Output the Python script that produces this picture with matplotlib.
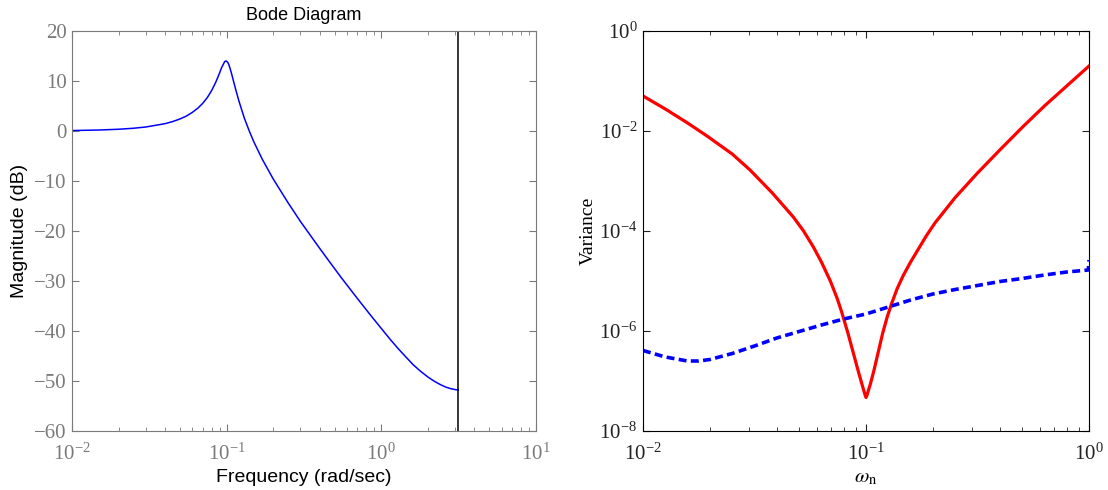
import numpy as np
import matplotlib
matplotlib.use("Agg")
import matplotlib.pyplot as plt
from matplotlib.ticker import LogLocator, NullFormatter, NullLocator

plt.rcParams["mathtext.fontset"] = "stix"
plt.rcParams["font.family"] = ["Liberation Serif", "DejaVu Serif"]

# ── Data ──────────────────────────────────────────────────────────
# left panel: Bode magnitude (dB) vs frequency (rad/sec)
bode_freq = [0.01, 0.015, 0.02, 0.025, 0.03, 0.04, 0.045, 0.05, 0.055, 0.06,
             0.065, 0.07, 0.075, 0.08, 0.085, 0.09, 0.0925, 0.097, 0.099,
             0.1015, 0.103, 0.105, 0.1075, 0.11, 0.115, 0.12, 0.13, 0.14,
             0.15, 0.17, 0.2, 0.25, 0.3, 0.4, 0.466, 0.55, 0.7, 0.85, 1.0,
             1.15, 1.3, 1.6, 1.8, 2.0, 2.2, 2.4, 2.6, 2.8, 3.0, 3.1416]
bode_mag = [0.09, 0.2, 0.35, 0.55, 0.8, 1.47, 1.91, 2.42, 3.0, 3.73,
            4.55, 5.53, 6.7, 8.1, 9.75, 11.6, 12.6, 13.86, 14.02,
            13.76, 13.36, 12.6, 11.5, 10.3, 8.04, 6.0, 2.6, 0.0,
            -2.2, -5.66, -9.6, -14.4, -18.1, -23.5, -26.3, -29.3, -33.5, -36.8, -39.5,
            -41.8, -43.7, -46.7, -48.1, -49.2, -50.05, -50.7, -51.2, -51.52, -51.72, -51.8]
nyquist = 3.1416

# right panel: variance vs omega_n, both stored as log10 values
red_logw = [-2.0, -1.9, -1.8, -1.713, -1.6, -1.52, -1.42, -1.326, -1.28, -1.236,
            -1.2, -1.16, -1.13, -1.109, -1.08, -1.055, -1.035, -1.019, -1.01,
            -1.004, -1.0, -0.996, -0.99, -0.981, -0.965, -0.945, -0.925, -0.905,
            -0.885, -0.86, -0.833, -0.8, -0.765, -0.73, -0.691, -0.6, -0.5,
            -0.4, -0.3, -0.2, -0.1, 0.0]
red_logvar = [-1.30, -1.56, -1.84, -2.10, -2.46, -2.78, -3.24, -3.72, -4.00, -4.32,
              -4.62, -5.00, -5.34, -5.62, -6.06, -6.47, -6.80, -7.05, -7.19,
              -7.28, -7.33, -7.29, -7.20, -7.07, -6.80, -6.42, -6.04, -5.72,
              -5.45, -5.15, -4.89, -4.62, -4.36, -4.10, -3.84, -3.33, -2.84,
              -2.38, -1.93, -1.50, -1.10, -0.70]

blue_logw = [-2.0, -1.9, -1.8, -1.75, -1.7, -1.6, -1.5, -1.4, -1.3, -1.2,
             -1.1, -1.0, -0.9, -0.8, -0.7, -0.6, -0.5, -0.4, -0.3, -0.2,
             -0.1, -0.003, 0.0]
blue_logvar = [-6.39, -6.52, -6.60, -6.60, -6.57, -6.45, -6.30, -6.14, -6.01, -5.88,
               -5.76, -5.66, -5.52, -5.38, -5.26, -5.17, -5.09, -5.01, -4.95, -4.88,
               -4.82, -4.78, -4.58]

W, H = 1108, 490
fig = plt.figure(figsize=(W / 100, H / 100), dpi=100)

# ── Left: Bode diagram ────────────────────────────────────────────
ax1 = fig.add_axes([72 / W, 1 - 431 / H, 464 / W, 400 / H])
ax1.semilogx(bode_freq, bode_mag, color="#0000ff", lw=1.1)
ax1.axvline(nyquist, color="black", lw=1.1)
ax1.set_xlim(1e-2, 1e1)
ax1.set_ylim(-60, 20)
yt = list(range(-60, 21, 10))
ax1.set_yticks(yt)
ax1.set_yticklabels([f"\u2212{-v}" if v < 0 else str(v) for v in yt])
ax1.xaxis.set_minor_locator(LogLocator(base=10, subs=np.arange(2, 10)))
ax1.xaxis.set_minor_formatter(NullFormatter())
gray = "#7a7a7a"
for s in ax1.spines.values():
    s.set_color(gray)
ax1.tick_params(which="both", direction="in", top=True, right=True,
                colors=gray, labelsize=15)
ax1.tick_params(which="major", length=5)
ax1.tick_params(which="minor", length=3)
ax1.tick_params(axis="x", which="major", pad=9)
ax1.tick_params(axis="y", which="major", pad=4)
ax1.set_title("Bode Diagram", family="Liberation Sans", fontsize=13, pad=8)
ax1.set_ylabel("Magnitude (dB)", family="Liberation Sans", fontsize=14, labelpad=4)
ax1.set_xlabel("Frequency (rad/sec)", family="Liberation Sans", fontsize=14)
ax1.xaxis.set_label_coords(0.5, -0.115)
ax1.xaxis.label.set_va("center")

# ── Right: variance ───────────────────────────────────────────────
ax2 = fig.add_axes([643 / W, 1 - 431 / H, 446 / W, 400 / H])
ax2.loglog(10 ** np.array(red_logw), 10 ** np.array(red_logvar),
           color="#ff0000", lw=2.3)
ax2.loglog(10 ** np.array(blue_logw), 10 ** np.array(blue_logvar),
           color="#0000ff", lw=2.6, linestyle=(0, (2.2, 1.2)))
ax2.set_xlim(1e-2, 1e0)
ax2.set_ylim(1e-8, 1e0)
ax2.set_yticks([1e-8, 1e-6, 1e-4, 1e-2, 1e0])
ax2.yaxis.set_minor_locator(NullLocator())
ax2.xaxis.set_minor_locator(LogLocator(base=10, subs=np.arange(2, 10)))
ax2.xaxis.set_minor_formatter(NullFormatter())
ax2.tick_params(which="both", direction="in", top=True, right=True,
                colors="#222222", labelsize=15)
ax2.tick_params(which="major", length=5)
ax2.tick_params(which="minor", length=3)
ax2.tick_params(axis="x", which="major", pad=9)
ax2.tick_params(axis="y", which="major", pad=4)
ax2.set_ylabel("Variance", fontsize=14, labelpad=2)
ax2.set_xlabel(r"$\omega_\mathrm{n}$", fontsize=15)
ax2.xaxis.set_label_coords(0.5, -0.118)
ax2.xaxis.label.set_va("center")

fig.savefig("out.png", dpi=100)
